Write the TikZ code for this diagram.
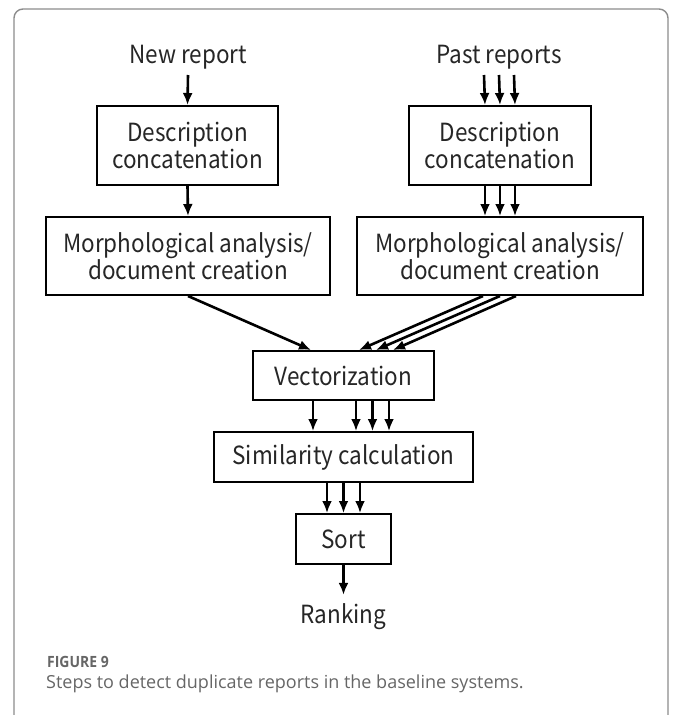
\documentclass[tikz,border=0pt]{standalone}
\usepackage{fontspec}
\setmainfont{Noto Sans CJK JP}[FakeStretch=0.9]
\newfontfamily\capfont{Open Sans}
\newfontfamily\capheadfont{Open Sans}[FakeStretch=0.9]
\usetikzlibrary{arrows.meta}
\definecolor{frame}{HTML}{8C8C8C}
\definecolor{captxt}{HTML}{666666}
\definecolor{ink}{HTML}{262626}
\tikzset{
  box/.style={draw=black, line width=2pt, fill=white, text=ink, align=center,
    inner sep=0pt, font=\fontsize{25}{27}\selectfont},
  lbl/.style={text=ink, inner sep=0pt, font=\fontsize{25}{27}\selectfont},
  arr/.style={line width=2.6pt, -{Latex[length=12pt,width=10pt]}},
}
\begin{document}
\begin{tikzpicture}[x=1pt, y=-1pt]
  \useasboundingbox (0,0) rectangle (681,715);
  \clip (0,0) rectangle (681,715);
  % outer panel frame, open at the bottom
  \draw[frame, line width=1.4pt, rounded corners=9pt] (14,760) -- (14,9) -- (668,9) -- (668,760);

  % nodes
  \node[lbl, anchor=base] (newr) at (188,63) {New report};
  \node[lbl, anchor=base] (pastr) at (499,63) {Past reports};
  \coordinate (newin) at (188,75);
  \coordinate (pastin) at (499,75);
  \node[box, minimum width=181pt, minimum height=79pt] (d1) at (187.5,145.5) {Description\\concatenation};
  \node[box, minimum width=182pt, minimum height=79pt] (d2) at (500,145.5) {Description\\concatenation};
  \node[box, minimum width=284pt, minimum height=78pt] (m1) at (188,256) {Morphological analysis/\\document creation};
  \node[box, minimum width=286pt, minimum height=78pt] (m2) at (500,256) {Morphological analysis/\\document creation};
  \node[box, minimum width=181pt, minimum height=49pt] (vec) at (343.5,375.5) {Vectorization};
  \node[box, minimum width=259pt, minimum height=50pt] (sim) at (343.5,457) {Similarity calculation};
  \node[box, minimum width=95pt, minimum height=50pt] (sort) at (343.5,539) {Sort};
  \node[lbl, anchor=base] (rank) at (343.5,623) {Ranking};

  % new report path
  \draw[arr] (newin) -- (d1.north);
  \draw[arr] (d1.south) -- (m1.north);
  \draw[arr] (m1.south) -- ([xshift=-32.5pt]vec.north);

  % past reports path (three parallel streams)
  \foreach \dx in {-15,0,15} {
    \draw[arr] ([xshift=\dx pt]pastin) -- ([xshift=\dx pt]d2.north);
    \draw[arr] ([xshift=\dx pt]d2.south) -- ([xshift=\dx pt]m2.north);
  }
  \draw[arr] ([xshift=-17pt]m2.south) -- ([xshift=15.5pt]vec.north);
  \draw[arr] ([xshift=0pt]m2.south) -- ([xshift=32.5pt]vec.north);
  \draw[arr] ([xshift=16pt]m2.south) -- ([xshift=49.5pt]vec.north);

  % vectorization to similarity
  \foreach \dx in {-30.5,12.5,29,45.5} {
    \draw[arr] ([xshift=\dx pt]vec.south) -- ([xshift=\dx pt]sim.north);
  }
  % similarity to sort
  \foreach \dx in {-16.5,0,16.5} {
    \draw[arr] ([xshift=\dx pt]sim.south) -- ([xshift=\dx pt]sort.north);
  }
  \draw[arr] (sort.south) -- ([yshift=8pt]rank.north);

  % caption
  \node[anchor=base west, inner sep=0pt, text=captxt, font=\capheadfont\bfseries\fontsize{15.5}{18}\selectfont] (fig) at (47,667) {FIGURE 9};
  \node[anchor=base west, inner sep=0pt, text=captxt, font=\capfont\fontsize{18}{22}\selectfont] (cap) at (46,688) {Steps to detect duplicate reports in the baseline systems.};
\end{tikzpicture}
\end{document}
